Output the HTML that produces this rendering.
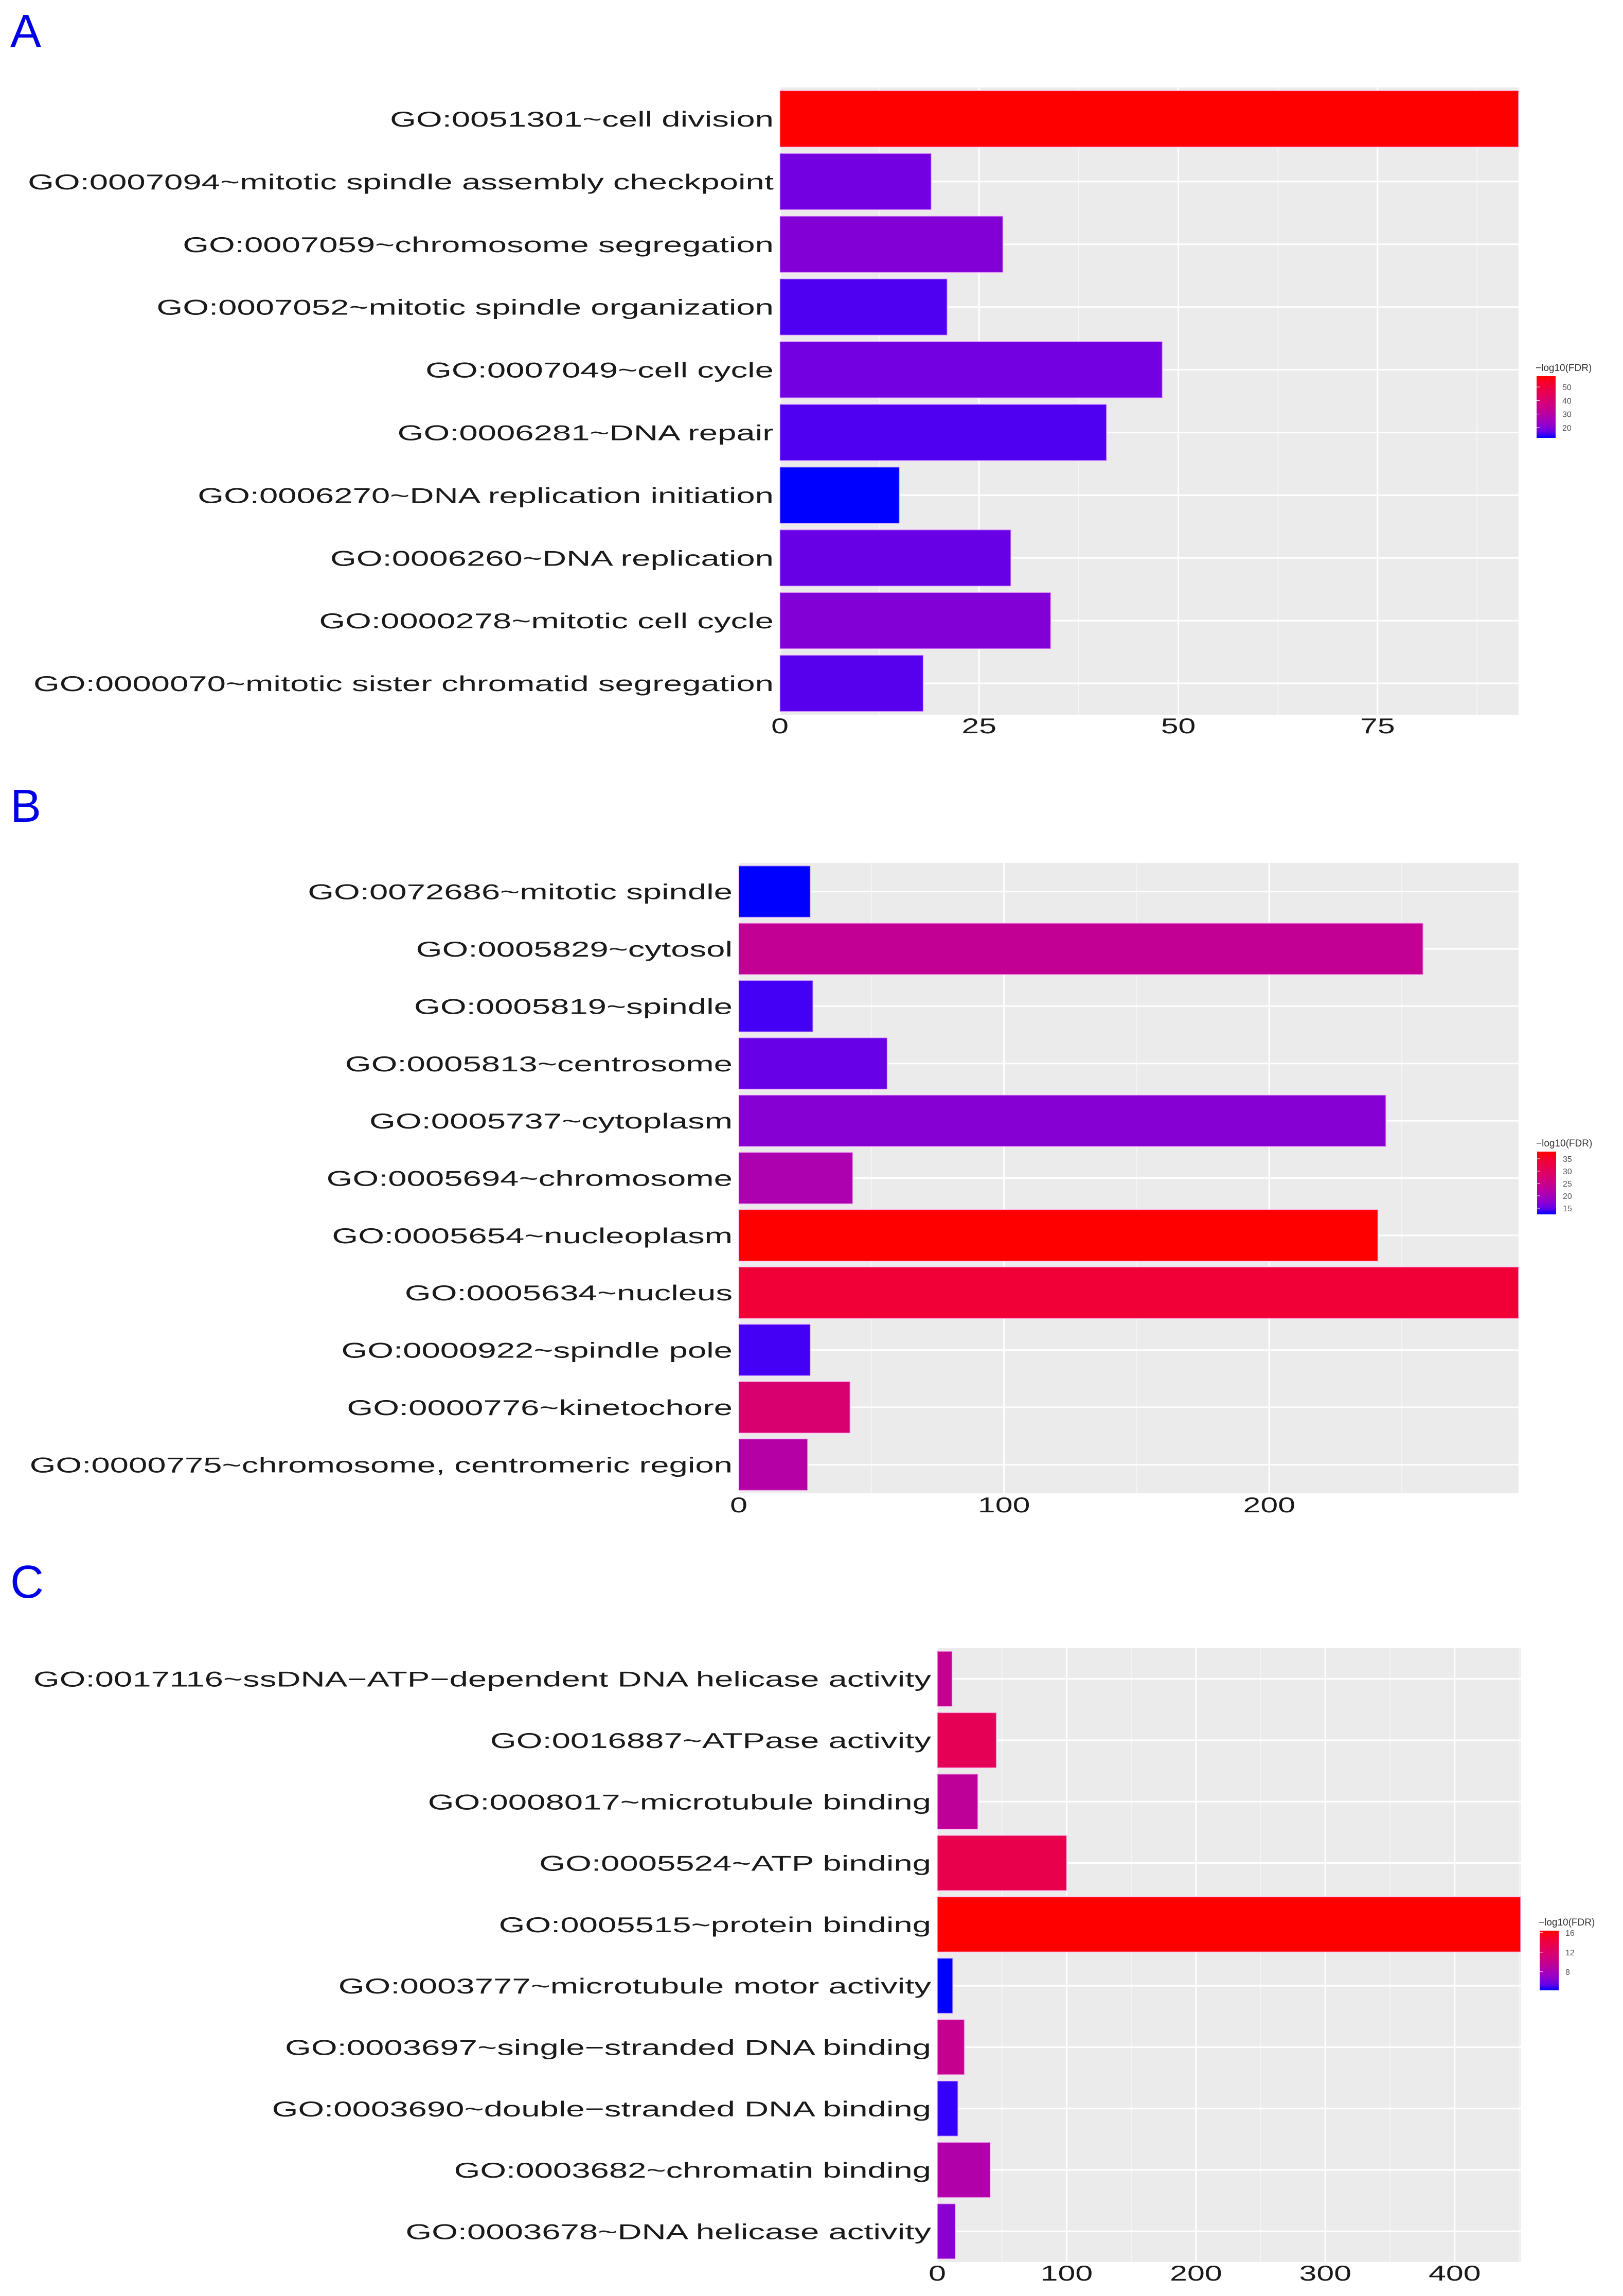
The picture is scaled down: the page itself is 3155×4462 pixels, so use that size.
<!DOCTYPE html>
<html><head><meta charset="utf-8">
<style>
html,body{margin:0;padding:0;background:#fff;}
svg{display:block;}
text{font-family:"Liberation Sans",Arial,sans-serif;}
</style></head>
<body>
<svg id="fig" width="3155" height="4462" viewBox="0 0 3155 4462" xmlns="http://www.w3.org/2000/svg">
<rect x="0" y="0" width="3155" height="4462" fill="#ffffff"/>
</svg>
<script>
// ---------- Panel A data (Biological Process) ----------
const catsA = ["GO:0051301~cell division","GO:0007094~mitotic spindle assembly checkpoint","GO:0007059~chromosome segregation","GO:0007052~mitotic spindle organization","GO:0007049~cell cycle","GO:0006281~DNA repair","GO:0006270~DNA replication initiation","GO:0006260~DNA replication","GO:0000278~mitotic cell cycle","GO:0000070~mitotic sister chromatid segregation"];
const countsA = [92.7, 19, 28, 21, 48, 41, 15, 29, 34, 18];
const fdrA = [58, 18, 20, 15, 18, 15, 12.4, 17, 20, 15.5];
const ticksA = [0, 25, 50, 75];
const legendTicksA = [20, 30, 40, 50];
const legendRangeA = [12.4, 58];

// ---------- Panel B data (Cellular Component) ----------
const catsB = ["GO:0072686~mitotic spindle","GO:0005829~cytosol","GO:0005819~spindle","GO:0005813~centrosome","GO:0005737~cytoplasm","GO:0005694~chromosome","GO:0005654~nucleoplasm","GO:0005634~nucleus","GO:0000922~spindle pole","GO:0000776~kinetochore","GO:0000775~chromosome, centromeric region"];
const countsB = [27, 258, 28, 56, 244, 43, 241, 294, 27, 42, 26];
const fdrB = [12.5, 24, 13.5, 15, 17, 21, 37.9, 34, 13.5, 28, 22];
const ticksB = [0, 100, 200];
const legendTicksB = [15, 20, 25, 30, 35];
const legendRangeB = [12.5, 37.9];

// ---------- Panel C data (Molecular Function) ----------
const catsC = ["GO:0017116~ssDNA\u2212ATP\u2212dependent DNA helicase activity","GO:0016887~ATPase activity","GO:0008017~microtubule binding","GO:0005524~ATP binding","GO:0005515~protein binding","GO:0003777~microtubule motor activity","GO:0003697~single\u2212stranded DNA binding","GO:0003690~double\u2212stranded DNA binding","GO:0003682~chromatin binding","GO:0003678~DNA helicase activity"];
const countsC = [11.5, 45.7, 31.4, 100, 451, 12, 21, 16, 41, 14];
const fdrC = [10, 13, 9.5, 13.5, 16.4, 4.2, 10, 4.5, 8.5, 6.5];
const ticksC = [0, 100, 200, 300, 400];
const legendTicksC = [8, 12, 16];
const legendRangeC = [4.2, 16.4];

const NS = "http://www.w3.org/2000/svg";
const svg = document.getElementById("fig");
function mk(tag, attrs, parent){
  const e = document.createElementNS(NS, tag);
  for (const k in attrs) e.setAttribute(k, attrs[k]);
  (parent || svg).appendChild(e);
  return e;
}
function srgb2lin(c){c/=255;return c<=0.04045?c/12.92:Math.pow((c+0.055)/1.055,2.4);}
function lin2srgb(c){c=c<=0.0031308?12.92*c:1.055*Math.pow(c,1/2.4)-0.055;return Math.max(0,Math.min(255,Math.round(c*255)));}
function toLab(r,g,b){
  r=srgb2lin(r);g=srgb2lin(g);b=srgb2lin(b);
  let X=(0.4124*r+0.3576*g+0.1805*b)/0.95047,Y=(0.2126*r+0.7152*g+0.0722*b),Z=(0.0193*r+0.1192*g+0.9505*b)/1.08883;
  const f=t=>t>0.008856?Math.cbrt(t):7.787*t+16/116;
  X=f(X);Y=f(Y);Z=f(Z);
  return [116*Y-16,500*(X-Y),200*(Y-Z)];
}
function fromLab(L,a,b){
  let Y=(L+16)/116,X=a/500+Y,Z=Y-b/200;
  const fi=t=>t*t*t>0.008856?t*t*t:(t-16/116)/7.787;
  X=fi(X)*0.95047;Y=fi(Y);Z=fi(Z)*1.08883;
  const r=3.2406*X-1.5372*Y-0.4986*Z,g=-0.9689*X+1.8758*Y+0.0415*Z,bb=0.0557*X-0.2040*Y+1.0570*Z;
  return "rgb("+lin2srgb(r)+","+lin2srgb(g)+","+lin2srgb(bb)+")";
}
const LAB_LO = toLab(0,0,255), LAB_HI = toLab(255,0,0);
function colorAt(v, range){
  let t=(v-range[0])/(range[1]-range[0]); t=Math.max(0,Math.min(1,t));
  return fromLab(LAB_LO[0]+(LAB_HI[0]-LAB_LO[0])*t, LAB_LO[1]+(LAB_HI[1]-LAB_LO[1])*t, LAB_LO[2]+(LAB_HI[2]-LAB_LO[2])*t);
}

function drawPanel(p){
  const g = mk("g", {});
  
  
  const W = p.x1 - p.x0, n = p.cats.length, band = (p.y1 - p.y0)/n;
  const xs = v => p.x0 + v/p.max*W;
  const L = mk("text", {x: p.letterX, y: p.letterY, "font-size": 90, fill: "#0000e6", "font-family": "Liberation Serif, serif"}, g);
  
  
  L.textContent = p.letter;
  const bg = mk("rect", {x: p.x0, y: p.y0, width: W, height: p.y1-p.y0, fill: "#ebebeb"}, g);
  
  
  for (let i=0;i<p.ticks.length;i++){
    const t = p.ticks[i];
    const step = p.ticks.length>1 ? p.ticks[1]-p.ticks[0] : 1;
    const gl = mk("line", {x1: xs(t), x2: xs(t), y1: p.y0, y2: p.y1, stroke: "#ffffff", "stroke-width": 3}, g);
    
    
    const m = t + step/2;
    if (m < p.max){
      const gm = mk("line", {x1: xs(m), x2: xs(m), y1: p.y0, y2: p.y1, stroke: "#f5f5f5", "stroke-width": 2}, g);
      
      
    }
  }
  for (let i=0;i<n;i++){
    const cy = p.y0 + band*(i+0.5);
    const hl = mk("line", {x1: p.x0, x2: p.x1, y1: cy, y2: cy, stroke: "#ffffff", "stroke-width": 3}, g);
    
    
  }
  for (let i=0;i<n;i++){
    const cy = p.y0 + band*(i+0.5), h = band*0.9;
    const r = mk("rect", {x: p.x0, y: cy-h/2, width: Math.max(0, xs(p.counts[i])-p.x0), height: h, fill: colorAt(p.fdr[i], p.range), stroke: "rgba(255,200,255,0.6)", "stroke-width": 2}, g);
    
    
    const tg = mk("g", {transform: "translate(" + (p.x0-12) + "," + (cy+15) + ") scale(1.555,1)"}, g);
    const t = mk("text", {x: 0, y: 0, "font-size": 42, fill: "#1a1a1a", "text-anchor": "end"}, tg);
    
    
    t.textContent = p.cats[i];
  }
  for (const tv of p.ticks){
    const tg = mk("g", {transform: "translate(" + xs(tv) + "," + p.tickY + ") scale(1.45,1)"}, g);
    const t = mk("text", {x: 0, y: 0, "font-size": 42, fill: "#1a1a1a", "text-anchor": "middle"}, tg);
    
    
    t.textContent = tv;
  }
  const lg = mk("g", {}, g);
  
  
  const gid = "grad" + p.letter;
  const defs = mk("defs", {}, lg);
  const grad = mk("linearGradient", {id: gid, x1: 0, y1: 1, x2: 0, y2: 0}, defs);
  for (let k=0;k<=10;k++){
    mk("stop", {offset: k/10, "stop-color": colorAt(p.range[0] + (p.range[1]-p.range[0])*k/10, p.range)}, grad);
  }
  const lt = mk("text", {x: p.lx - 2, y: p.ly0 - 10, "font-size": 19, fill: "#333"}, lg);
  
  
  lt.textContent = "\u2212log10(FDR)";
  const lb = mk("rect", {x: p.lx, y: p.ly0, width: 37, height: p.ly1-p.ly0, fill: "url(#" + gid + ")"}, lg);
  
  
  const ly = v => p.ly1 - (v - p.range[0])/(p.range[1]-p.range[0])*(p.ly1-p.ly0);
  for (const tv of p.legendTicks){
    const tl = mk("line", {x1: p.lx, x2: p.lx+6, y1: ly(tv), y2: ly(tv), stroke: "#fff", "stroke-width": 1}, lg);
    
    
    const tt = mk("text", {x: p.lx + 50, y: ly(tv) + 6, "font-size": 16, fill: "#555"}, lg);
    
    
    tt.textContent = tv;
  }
}

drawPanel({name: "panel-a-biological-process", letter: "A", letterX: 20, letterY: 91,
  cats: catsA, counts: countsA, fdr: fdrA, ticks: ticksA, legendTicks: legendTicksA, range: legendRangeA,
  x0: 1516, x1: 2952, max: 92.7, y0: 170, y1: 1389, tickY: 1425, lx: 2987, ly0: 731, ly1: 851});
drawPanel({name: "panel-b-cellular-component", letter: "B", letterX: 20, letterY: 1597,
  cats: catsB, counts: countsB, fdr: fdrB, ticks: ticksB, legendTicks: legendTicksB, range: legendRangeB,
  x0: 1436, x1: 2952, max: 294, y0: 1677, y1: 2902, tickY: 2939, lx: 2988, ly0: 2238, ly1: 2360});
drawPanel({name: "panel-c-molecular-function", letter: "C", letterX: 20, letterY: 3105,
  cats: catsC, counts: countsC, fdr: fdrC, ticks: ticksC, legendTicks: legendTicksC, range: legendRangeC,
  x0: 1822, x1: 2956, max: 451, y0: 3203, y1: 4396, tickY: 4432, lx: 2993, ly0: 3752, ly1: 3868});
</script>
</body></html>
